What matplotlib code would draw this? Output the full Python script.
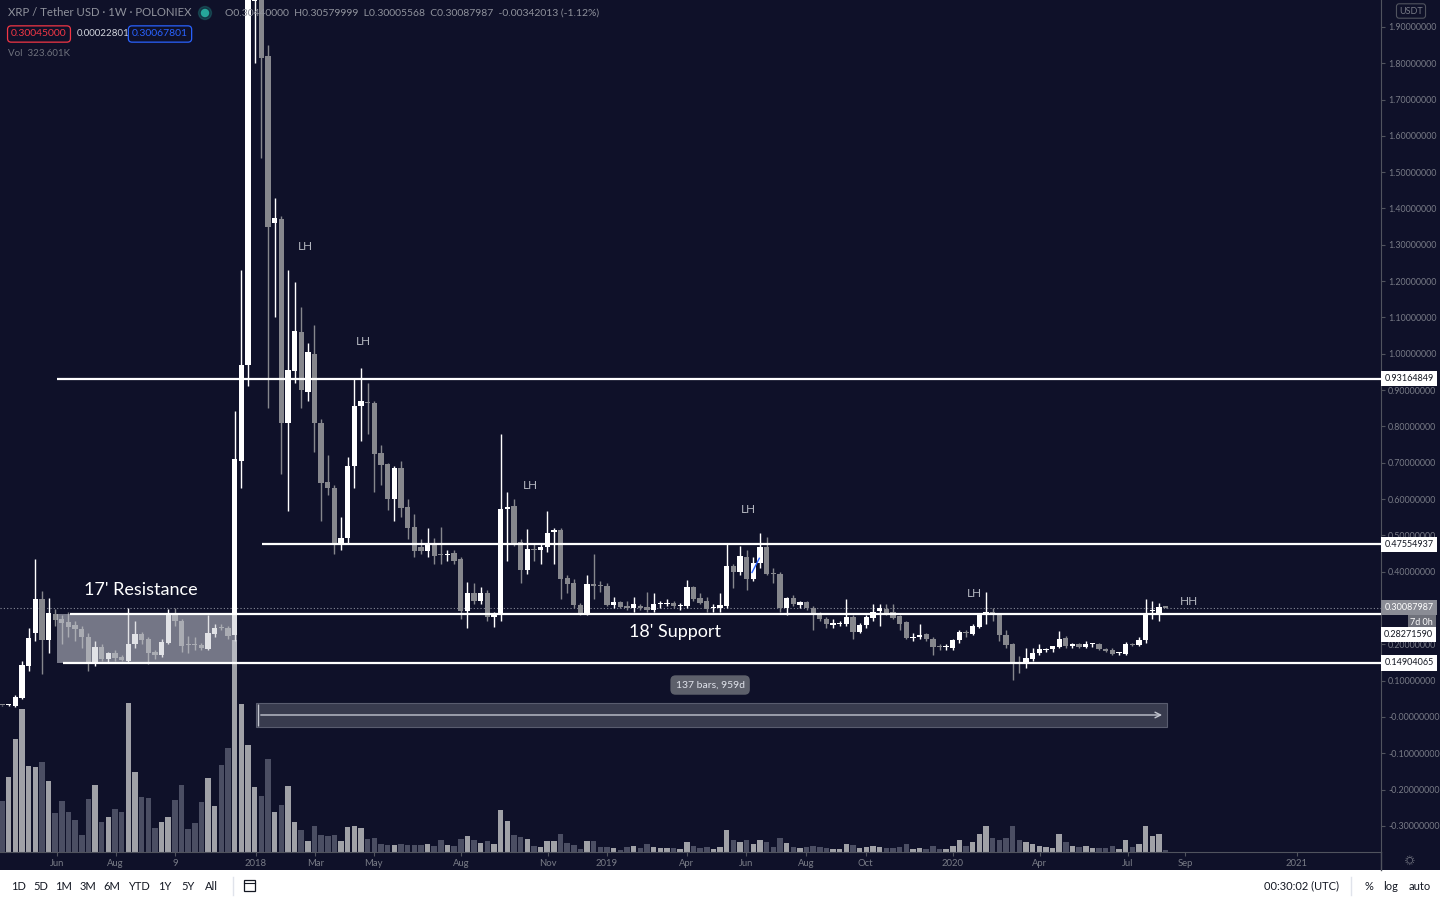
import matplotlib.pyplot as plt
import matplotlib.patches as mpatches
from matplotlib.transforms import blended_transform_factory
import numpy as np

plt.rcParams['font.family'] = ['Lato', 'DejaVu Sans']
plt.rcParams['axes.unicode_minus'] = False

# weekly XRP/USDT candles (Poloniex)
opens = [0.033, 0.032, 0.030, 0.052, 0.140, 0.230, 0.325, 0.212, 0.284, 0.270,
         0.262, 0.253, 0.242, 0.220, 0.146, 0.193, 0.160, 0.176, 0.165, 0.154,
         0.200, 0.228, 0.215, 0.178, 0.170, 0.204, 0.281, 0.264, 0.200, 0.199,
         0.198, 0.187, 0.228, 0.248, 0.245, 0.226, 0.705, 0.970, 1.970, 2.050,
         1.820, 1.360, 1.370, 0.810, 0.953, 1.060, 0.895, 1.000, 0.810, 0.647,
         0.630, 0.477, 0.493, 0.690, 0.857, 0.868, 0.865, 0.727, 0.697, 0.600,
         0.686, 0.578, 0.523, 0.468, 0.457, 0.474, 0.447, 0.446, 0.452, 0.435,
         0.292, 0.340, 0.320, 0.342, 0.276, 0.281, 0.573, 0.580, 0.482, 0.405,
         0.462, 0.460, 0.468, 0.510, 0.515, 0.383, 0.369, 0.309, 0.284, 0.364,
         0.362, 0.362, 0.309, 0.317, 0.306, 0.300, 0.306, 0.303, 0.295, 0.311,
         0.312, 0.314, 0.306, 0.306, 0.358, 0.328, 0.320, 0.299, 0.300, 0.306,
         0.416, 0.400, 0.441, 0.380, 0.424, 0.468, 0.394, 0.394, 0.300, 0.328,
         0.308, 0.317, 0.300, 0.284, 0.270, 0.254, 0.256, 0.256, 0.275, 0.234,
         0.253, 0.272, 0.292, 0.298, 0.289, 0.278, 0.262, 0.218, 0.220, 0.228,
         0.215, 0.193, 0.192, 0.190, 0.212, 0.232, 0.229, 0.248, 0.281, 0.289,
         0.281, 0.226, 0.200, 0.149, 0.149, 0.160, 0.176, 0.185, 0.187, 0.193,
         0.218, 0.196, 0.200, 0.193, 0.200, 0.200, 0.187, 0.185, 0.176, 0.174,
         0.200, 0.198, 0.212, 0.293, 0.284, 0.3044]
highs = [0.034, 0.035, 0.060, 0.155, 0.245, 0.435, 0.347, 0.328, 0.298, 0.280,
         0.290, 0.265, 0.250, 0.230, 0.210, 0.200, 0.180, 0.185, 0.170, 0.300,
         0.264, 0.235, 0.220, 0.185, 0.215, 0.297, 0.300, 0.270, 0.223, 0.220,
         0.205, 0.280, 0.256, 0.255, 0.250, 0.843, 1.230, 2.400, 2.500, 2.200,
         1.850, 1.430, 1.380, 1.230, 1.198, 1.130, 1.030, 1.080, 0.820, 0.720,
         0.640, 0.550, 0.715, 0.930, 0.960, 0.920, 0.870, 0.750, 0.700, 0.690,
         0.705, 0.600, 0.560, 0.490, 0.520, 0.493, 0.523, 0.460, 0.460, 0.440,
         0.372, 0.370, 0.358, 0.350, 0.290, 0.780, 0.620, 0.600, 0.490, 0.518,
         0.480, 0.475, 0.567, 0.520, 0.520, 0.390, 0.380, 0.315, 0.390, 0.450,
         0.375, 0.370, 0.330, 0.320, 0.320, 0.330, 0.310, 0.344, 0.340, 0.320,
         0.325, 0.320, 0.315, 0.377, 0.360, 0.340, 0.330, 0.310, 0.340, 0.477,
         0.420, 0.470, 0.460, 0.440, 0.507, 0.495, 0.410, 0.400, 0.330, 0.335,
         0.320, 0.320, 0.305, 0.290, 0.275, 0.270, 0.265, 0.325, 0.280, 0.260,
         0.280, 0.310, 0.310, 0.310, 0.310, 0.280, 0.265, 0.230, 0.255, 0.230,
         0.220, 0.200, 0.200, 0.215, 0.240, 0.240, 0.255, 0.285, 0.344, 0.300,
         0.285, 0.240, 0.205, 0.168, 0.190, 0.190, 0.200, 0.190, 0.190, 0.236,
         0.222, 0.205, 0.205, 0.210, 0.205, 0.205, 0.190, 0.190, 0.180, 0.207,
         0.205, 0.220, 0.325, 0.320, 0.315, 0.3058]
lows = [0.031, 0.031, 0.028, 0.050, 0.127, 0.210, 0.118, 0.176, 0.250, 0.200,
        0.220, 0.210, 0.190, 0.127, 0.140, 0.155, 0.150, 0.155, 0.153, 0.150,
        0.190, 0.200, 0.146, 0.160, 0.165, 0.200, 0.250, 0.180, 0.176, 0.185,
        0.185, 0.185, 0.220, 0.240, 0.215, 0.210, 0.630, 0.910, 1.800, 1.540,
        0.850, 1.100, 0.670, 0.567, 0.920, 0.850, 0.870, 0.730, 0.540, 0.610,
        0.450, 0.460, 0.480, 0.630, 0.760, 0.780, 0.620, 0.640, 0.570, 0.540,
        0.550, 0.490, 0.440, 0.450, 0.440, 0.420, 0.420, 0.430, 0.420, 0.270,
        0.245, 0.310, 0.310, 0.265, 0.248, 0.265, 0.430, 0.470, 0.370, 0.394,
        0.430, 0.420, 0.455, 0.420, 0.325, 0.340, 0.300, 0.280, 0.280, 0.325,
        0.345, 0.305, 0.300, 0.300, 0.295, 0.290, 0.295, 0.290, 0.290, 0.300,
        0.305, 0.300, 0.295, 0.300, 0.320, 0.310, 0.290, 0.290, 0.290, 0.300,
        0.355, 0.390, 0.350, 0.375, 0.410, 0.390, 0.370, 0.290, 0.280, 0.305,
        0.300, 0.295, 0.240, 0.265, 0.245, 0.245, 0.250, 0.250, 0.215, 0.230,
        0.245, 0.265, 0.250, 0.280, 0.270, 0.240, 0.215, 0.210, 0.215, 0.210,
        0.170, 0.185, 0.185, 0.185, 0.205, 0.220, 0.225, 0.245, 0.255, 0.265,
        0.210, 0.190, 0.102, 0.122, 0.135, 0.155, 0.170, 0.180, 0.180, 0.190,
        0.190, 0.190, 0.190, 0.190, 0.193, 0.185, 0.180, 0.170, 0.172, 0.170,
        0.195, 0.195, 0.205, 0.270, 0.265, 0.3001]
closes = [0.032, 0.033, 0.055, 0.143, 0.218, 0.325, 0.212, 0.287, 0.267, 0.260,
          0.248, 0.242, 0.220, 0.146, 0.193, 0.160, 0.176, 0.163, 0.157, 0.200,
          0.228, 0.212, 0.176, 0.170, 0.207, 0.281, 0.264, 0.196, 0.199, 0.198,
          0.190, 0.232, 0.245, 0.245, 0.223, 0.710, 0.970, 2.000, 2.050, 1.815,
          1.350, 1.375, 0.810, 0.955, 1.063, 0.900, 1.005, 0.810, 0.645, 0.630,
          0.477, 0.493, 0.690, 0.857, 0.870, 0.864, 0.725, 0.694, 0.600, 0.686,
          0.576, 0.520, 0.457, 0.456, 0.477, 0.443, 0.445, 0.449, 0.430, 0.292,
          0.342, 0.320, 0.342, 0.276, 0.284, 0.573, 0.578, 0.479, 0.405, 0.463,
          0.460, 0.468, 0.507, 0.515, 0.380, 0.366, 0.309, 0.284, 0.366, 0.362,
          0.361, 0.309, 0.317, 0.303, 0.300, 0.311, 0.301, 0.295, 0.311, 0.312,
          0.314, 0.306, 0.307, 0.358, 0.325, 0.314, 0.297, 0.300, 0.309, 0.416,
          0.400, 0.444, 0.380, 0.424, 0.468, 0.394, 0.393, 0.300, 0.328, 0.311,
          0.317, 0.300, 0.284, 0.270, 0.256, 0.259, 0.257, 0.275, 0.234, 0.253,
          0.275, 0.289, 0.300, 0.287, 0.272, 0.256, 0.218, 0.220, 0.226, 0.215,
          0.193, 0.192, 0.193, 0.212, 0.234, 0.231, 0.250, 0.281, 0.289, 0.281,
          0.226, 0.198, 0.149, 0.148, 0.163, 0.176, 0.187, 0.186, 0.196, 0.215,
          0.196, 0.200, 0.193, 0.200, 0.201, 0.187, 0.182, 0.174, 0.177, 0.200,
          0.199, 0.212, 0.284, 0.295, 0.303, 0.30087987]
volumes = [51, 75, 113, 143, 86, 85, 90, 71, 39, 51,
           40, 32, 17, 53, 67, 30, 35, 43, 40, 149,
           80, 55, 54, 24, 30, 35, 52, 67, 23, 29,
           50, 74, 46, 87, 104, 212, 148, 107, 65, 56,
           93, 40, 47, 66, 30, 22, 11, 26, 17, 16,
           17, 11, 25, 26, 24, 13, 14, 8, 7, 7,
           8, 7, 7, 7, 8, 6, 12, 7, 6, 13,
           16, 12, 9, 11, 8, 42, 31, 17, 15, 13,
           6, 5, 11, 11, 18, 9, 7, 3, 11, 11,
           5, 5, 4, 2, 5, 6, 4, 8, 5, 4,
           4, 4, 3, 10, 6, 4, 5, 3, 5, 22,
           12, 10, 12, 8, 12, 10, 5, 14, 9, 5,
           4, 5, 6, 5, 4, 3, 3, 8, 7, 4,
           5, 6, 5, 4, 4, 5, 8, 3, 4, 3,
           6, 3, 3, 6, 12, 6, 10, 18, 26, 14,
           12, 14, 26, 12, 10, 8, 6, 5, 4, 18,
           10, 6, 5, 6, 4, 4, 4, 6, 3, 12,
           5, 8, 26, 16, 18, 2]

tick_pos = [8.3, 17.1, 26.0, 38.2, 47.1, 55.9, 69.0, 82.1, 91.0, 103.0,
            111.9, 120.9, 129.9, 143.0, 156.1, 169.3, 177.9, 194.7]
tick_labels = ['Jun', 'Aug', '9', '2018', 'Mar', 'May', 'Aug', 'Nov', '2019', 'Apr',
               'Jun', 'Aug', 'Oct', '2020', 'Apr', 'Jul', 'Sep', '2021']
price_ticks = [-0.3, -0.2, -0.1, 0.0, 0.1, 0.2, 0.3, 0.4, 0.5, 0.6, 0.7, 0.8,
               0.9, 1.0, 1.1, 1.2, 1.3, 1.4, 1.5, 1.6, 1.7, 1.8, 1.9]

levels = [0.93164849, 0.47554937, 0.28271590, 0.14904065]
level_start = [8.3, 39.1, 10.2, 9.2]
last_price = 0.30087987
zone = (8.3, 35.3, 0.14904065, 0.28271590)   # 17' resistance box
lh_x = [45.6, 54.4, 79.5, 112.3, 146.3]
lh_y = [1.294, 1.035, 0.636, 0.570, 0.341]

BG = '#0f1129'
UP = '#ffffff'
DOWN = '#86878d'
GRID_TXT = '#787b86'

fig = plt.figure(figsize=(14.4, 9), dpi=100, facecolor=BG)
ax = fig.add_axes([0, 48 / 900, 1381 / 1440, 852 / 900])
ax.set_facecolor(BG)
axv = ax.twinx()
ax.set_zorder(axv.get_zorder() + 1)
ax.patch.set_visible(False)
axv.set_facecolor(BG)

n = len(opens)
x = np.arange(n)
o = np.array(opens)
c = np.array(closes)
up = c >= o
col = np.where(up, UP, DOWN)

# volume
vcol = np.where(up, '#a0a1a7', '#4b4e63')
axv.bar(x, volumes, width=0.82, color=vcol, linewidth=0)
axv.set_ylim(0, 852)
axv.axis('off')

# candles
ax.vlines(x, lows, highs, colors=col, lw=1.0, zorder=3)
ax.bar(x, np.maximum(np.abs(c - o), 0.0028), bottom=np.minimum(o, c),
       width=0.8, color=col, linewidth=0, zorder=4)

ax.set_xlim(-0.3, 207.4)
ax.set_ylim(-0.3717, 1.974)

# drawings
ax.add_patch(mpatches.Rectangle((zone[0], zone[2]), zone[1] - zone[0], zone[3] - zone[2],
                                facecolor='#c9cbd3', alpha=0.55, lw=0, zorder=5))
ax.hlines(levels, level_start, 207.4, colors='white', lw=1.6, zorder=6)
ax.axhline(last_price, color='#8a8d99', ls=(0, (1, 2)), lw=0.8, zorder=2)

for xx, yy in zip(lh_x, lh_y):
    ax.text(xx, yy, 'LH', color='#b2b5be', fontsize=8.5, ha='center', va='center', zorder=7)
ax.text(178.5, 0.3166, 'HH', color='#b2b5be', fontsize=8.5, ha='center', va='center', zorder=7)
ax.text(20.9, 0.35, "17' Resistance", color='white', fontsize=13, ha='center', va='center', zorder=7)
ax.text(101.2, 0.234, "18' Support", color='white', fontsize=13, ha='center', va='center', zorder=7)

# date range measure
ax.add_patch(mpatches.Rectangle((38.2, -0.0275), 137.0, 0.066, facecolor='#3b3e51',
                                alpha=0.95, edgecolor='#5d6072', lw=0.8, zorder=5))
ax.annotate('', xy=(174.9, 0.0055), xytext=(38.5, 0.0055),
            arrowprops=dict(arrowstyle='->', color='#c3c6d0', lw=1.0), zorder=6)
ax.vlines(38.5, -0.024, 0.035, colors='#c3c6d0', lw=1.0, zorder=6)
ax.text(106.5, 0.088, '137 bars, 959d', color='#e0e3eb', fontsize=7.5, ha='center', va='center',
        zorder=7, bbox=dict(boxstyle='round,pad=0.5', fc='#5d606b', ec='none'))
ax.plot([112.8, 113.9], [0.398, 0.437], color='#2962ff', lw=1.0, zorder=6)

# axes styling
ax.set_xticks(tick_pos)
ax.set_xticklabels(tick_labels)
ax.yaxis.tick_right()
ax.set_yticks(price_ticks)
ax.set_yticklabels(['-0.00000000' if abs(v) < 1e-9 else f'{v:.8f}' for v in price_ticks])
ax.tick_params(axis='y', colors='#50535e', labelcolor=GRID_TXT, labelsize=6.4, length=3, pad=2)
ax.tick_params(axis='x', colors='#50535e', labelcolor=GRID_TXT, labelsize=6.8, length=3, pad=2)
for s in ['top', 'left']:
    ax.spines[s].set_visible(False)
ax.spines['right'].set_color('#50535e')
ax.spines['bottom'].set_color('#50535e')

# price labels on the scale
tr = blended_transform_factory(ax.transAxes, ax.transData)
for lv in [0.93164849, 0.47554937, 0.14904065]:
    ax.text(1.0025, lv, f'{lv:.8f}', transform=tr, fontsize=6.5, color='#131722', va='center',
            ha='left', clip_on=False, bbox=dict(boxstyle='square,pad=0.35', fc='white', ec='none'))
ax.text(1.0025, last_price, f'{last_price:.8f}', transform=tr, fontsize=6.5, color='white',
        va='center', ha='left', clip_on=False,
        bbox=dict(boxstyle='square,pad=0.35', fc='#8a8c95', ec='none'))
ax.annotate('7d 0h', xy=(1.0, last_price), xycoords=tr, xytext=(37.5, -10.4), textcoords='offset points',
            fontsize=6.5, color='white', va='center', ha='right', annotation_clip=False,
            bbox=dict(boxstyle='square,pad=0.3', fc='#6f717b', ec='none'))
ax.annotate('0.28271590', xy=(1.0, 0.28271590), xycoords=tr, xytext=(2, -14.5),
            textcoords='offset points', fontsize=6.5, color='#131722', va='center', ha='left',
            annotation_clip=False, bbox=dict(boxstyle='square,pad=0.35', fc='white', ec='none'))

# header
def fx(px):
    return px / 1440

def fy(py):
    return 1 - py / 900

fig.text(fx(8), fy(13), 'XRP / Tether USD · 1W · POLONIEX', color='#8f929c', fontsize=8.2, va='center')
fig.add_artist(mpatches.Ellipse((fx(205), fy(13)), 13 / 1440, 13 / 900, transform=fig.transFigure,
                                color='#26a69a', alpha=0.25))
fig.add_artist(mpatches.Ellipse((fx(205), fy(13)), 7 / 1440, 7 / 900, transform=fig.transFigure,
                                color='#26a69a'))
fig.text(fx(225), fy(13), 'O0.30440000  H0.30579999  L0.30005568  C0.30087987  -0.00342013 (-1.12%)',
         color='#8f929c', fontsize=7.5, va='center')
fig.text(fx(39), fy(34), '0.30045000', color='#f23645', fontsize=7.5, va='center', ha='center',
         bbox=dict(boxstyle='round,pad=0.35', fc=BG, ec='#f23645', lw=0.9))
fig.text(fx(77), fy(34), '0.00022801', color='#d1d4dc', fontsize=7, va='center')
fig.text(fx(160), fy(34), '0.30067801', color='#2962ff', fontsize=7.5, va='center', ha='center',
         bbox=dict(boxstyle='round,pad=0.35', fc=BG, ec='#2962ff', lw=0.9))
fig.text(fx(8), fy(54), 'Vol  323.601K', color='#6f727d', fontsize=7, va='center')
fig.text(fx(1411), fy(11), 'USDT', color='#787b86', fontsize=6.5, va='center', ha='center',
         bbox=dict(boxstyle='round,pad=0.3', fc=BG, ec='#50535e', lw=0.8))

# right scale border through the time strip + settings glyph
fig.add_artist(plt.Line2D([fx(1381), fx(1381)], [fy(870), fy(852)], color='#50535e', lw=1))
fig.text(fx(1410), fy(861), '☼', color='#787b86', fontsize=9, ha='center', va='center')

# bottom toolbar
tb = fig.add_axes([0, 0, 1, 30 / 900])
tb.set_xlim(0, 1440)
tb.set_ylim(30, 0)
tb.set_facecolor('white')
tb.set_xticks([])
tb.set_yticks([])
for s in tb.spines.values():
    s.set_visible(False)
for lab, px in zip(['1D', '5D', '1M', '3M', '6M', 'YTD', '1Y', '5Y', 'All'],
                   [18, 41, 64, 88, 112, 139, 165, 188, 211]):
    tb.text(px, 16, lab, color='#131722', fontsize=8, ha='center', va='center')
tb.plot([233, 233], [7, 25], color='#e0e3eb', lw=1)
tb.add_patch(mpatches.Rectangle((244, 10), 11, 11, fill=False, ec='#131722', lw=0.9))
tb.plot([244, 255], [13, 13], color='#131722', lw=0.8)
tb.text(1301, 16, '00:30:02 (UTC)', color='#131722', fontsize=8, ha='center', va='center')
tb.plot([1351, 1351], [7, 25], color='#e0e3eb', lw=1)
for lab, px in zip(['%', 'log', 'auto'], [1369, 1391, 1420]):
    tb.text(px, 16, lab, color='#131722', fontsize=8, ha='center', va='center')

fig.savefig('out.png', dpi=100, facecolor=BG)
